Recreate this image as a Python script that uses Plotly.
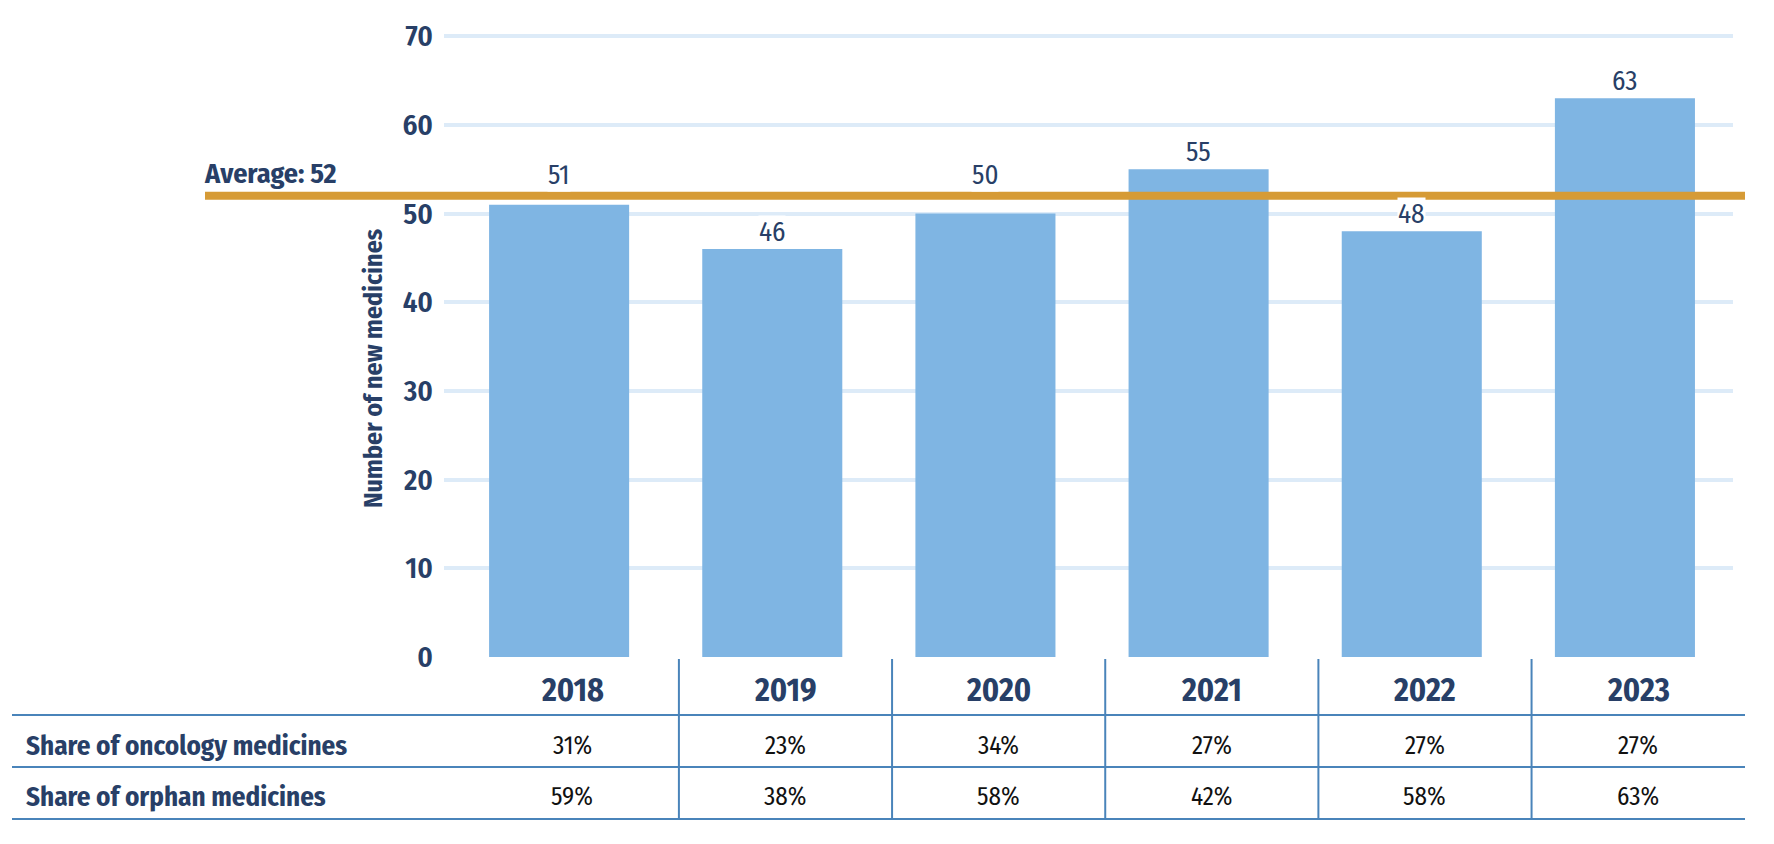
import plotly.graph_objects as go

# ---- data ----
years = ["2018", "2019", "2020", "2021", "2022", "2023"]
new_medicines = [51, 46, 50, 55, 48, 63]
average_value = 52
oncology_share = ["31%", "23%", "34%", "27%", "27%", "27%"]
orphan_share = ["59%", "38%", "58%", "42%", "58%", "63%"]
row_labels = ["Share of oncology medicines", "Share of orphan medicines"]
y_title = "Number of new medicines"
y_ticks = [0, 10, 20, 30, 40, 50, 60, 70]

# ---- style ----
FONT = "Fira Sans Condensed, Roboto Condensed, sans-serif"
NAVY = "#283F67"
BAR = "#7FB5E3"
GRID = "#DDEBF8"
GOLD = "#D69B36"
TABLE = "#4A84BA"

W, H = 1774, 844
PAGE = 8                      # browser body margin
L, R, T, B = 436, 49, 26, 195
PW = W - L - R
PH = H - T - B
y_top = 70.25
x_min, x_max = -0.54, 5.507
scale = PH / y_top            # pixels per unit


def px_x(p):
    """page pixel (x) -> paper coordinate"""
    return (p - PAGE - L) / PW


def px_y(p):
    """page pixel (y) -> paper coordinate"""
    return (H - B - (p - PAGE)) / PH


fig = go.Figure()
fig.add_trace(go.Bar(
    x=list(range(len(years))), y=new_medicines,
    marker=dict(color=BAR, line=dict(width=0)),
    hoverinfo="skip", showlegend=False,
))

# value labels above bars (lifted above the average line when they would touch it)
line_px = average_value * scale
for i, v in enumerate(new_medicines):
    top = v * scale
    centre = top + 17
    if abs(centre - line_px) < 15:
        centre = line_px + 21
    fig.add_annotation(x=i, y=v, xref="x", yref="y", text=str(v), showarrow=False,
                       xanchor="center", yanchor="middle", yshift=centre - top,
                       bgcolor="white", borderpad=0,
                       font=dict(family=FONT, size=27, color=NAVY))

# average line
shapes = [dict(type="line", xref="paper", yref="paper",
               x0=px_x(205), x1=px_x(1745), y0=average_value / y_top, y1=average_value / y_top,
               line=dict(color=GOLD, width=8), layer="above")]
fig.add_annotation(x=px_x(205), y=average_value, xref="paper", yref="y",
                   text=f"<b>Average: {average_value}</b>", showarrow=False,
                   xanchor="left", yanchor="middle", yshift=22, xshift=-3,
                   font=dict(family=FONT, size=28, color=NAVY))

# y-axis title
fig.add_annotation(x=px_x(373), y=px_y(369), xref="paper", yref="paper",
                   text=f"<b>{y_title}</b>", showarrow=False, textangle=-90,
                   xanchor="center", yanchor="middle",
                   font=dict(family=FONT, size=26, color=NAVY))

# table
col_off = 0.062
span = x_max - x_min
left_px, right_px = 12, 1745
for yp in (715, 767, 819):
    shapes.append(dict(type="line", xref="paper", yref="paper",
                       x0=px_x(left_px), x1=px_x(right_px), y0=px_y(yp), y1=px_y(yp),
                       line=dict(color=TABLE, width=2)))
for i in range(len(years) - 1):
    xv = (i + 0.5 + col_off - x_min) / span
    shapes.append(dict(type="line", xref="paper", yref="paper",
                       x0=xv, x1=xv, y0=px_y(659), y1=px_y(819),
                       line=dict(color=TABLE, width=2)))

row_y = [px_y(690), px_y(746), px_y(797)]
for i, yr in enumerate(years):
    xv = i + col_off
    fig.add_annotation(x=xv, y=row_y[0], xref="x", yref="paper", text=f"<b>{yr}</b>",
                       showarrow=False, xanchor="center", yanchor="middle",
                       font=dict(family=FONT, size=32, color=NAVY))
    fig.add_annotation(x=xv, y=row_y[1], xref="x", yref="paper", text=oncology_share[i],
                       showarrow=False, xanchor="center", yanchor="middle",
                       font=dict(family=FONT, size=25, color="#111111"))
    fig.add_annotation(x=xv, y=row_y[2], xref="x", yref="paper", text=orphan_share[i],
                       showarrow=False, xanchor="center", yanchor="middle",
                       font=dict(family=FONT, size=25, color="#111111"))
for k, lab in enumerate(row_labels):
    fig.add_annotation(x=px_x(27), y=row_y[k + 1], xref="paper", yref="paper",
                       text=f"<b>{lab}</b>", showarrow=False, xanchor="left", yanchor="middle",
                       xshift=-3, font=dict(family=FONT, size=27, color=NAVY))

fig.update_layout(
    width=W, height=H,
    margin=dict(l=L, r=R, t=T, b=B, pad=0),
    plot_bgcolor="white", paper_bgcolor="white",
    bargap=0.343,
    shapes=shapes,
    xaxis=dict(range=[x_min, x_max], showticklabels=False, showgrid=False,
               zeroline=False, showline=False, ticks=""),
    yaxis=dict(range=[0, y_top], tickvals=y_ticks, showgrid=True, gridcolor=GRID, gridwidth=4,
               zeroline=False, showline=False, ticks="", ticklabelstandoff=10,
               tickfont=dict(family=FONT, size=29, color=NAVY, weight=600)),
)
fig.write_html("out.html")
